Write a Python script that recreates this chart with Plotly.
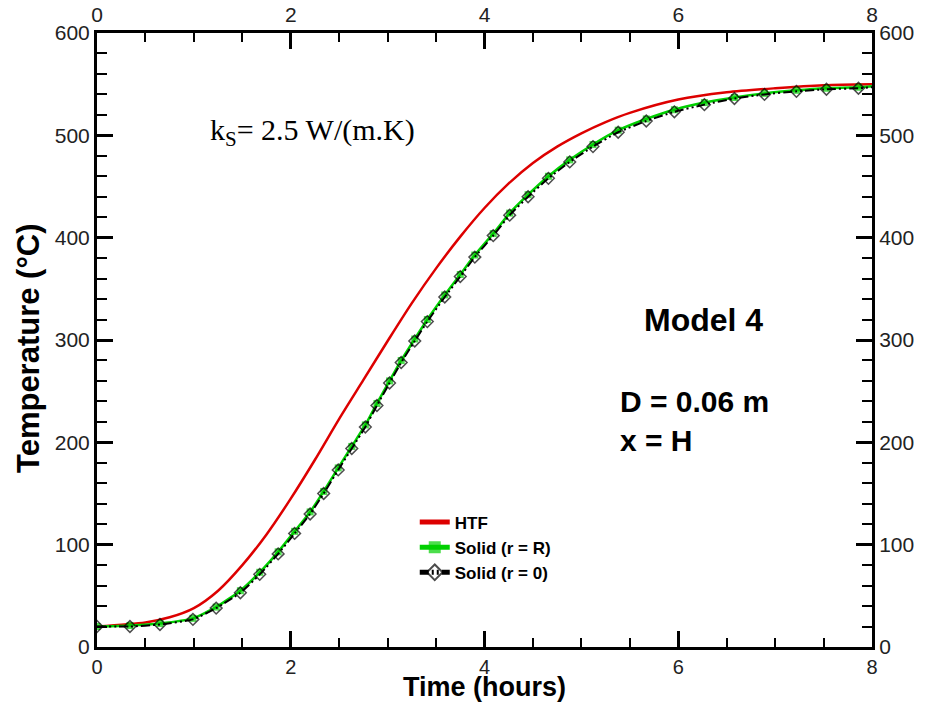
import plotly.graph_objects as go

# ---- data ----
htf_time = [0, 0.5, 0.75, 1.0, 1.25, 1.5, 1.75, 2.0, 2.25, 2.5, 2.75, 3.0, 3.25,
            3.5, 3.75, 4.0, 4.25, 4.5, 4.75, 5.0, 5.25, 5.5, 6.0, 6.5, 7.0, 7.5, 8.0]
htf_temp = [20, 24, 29, 38, 55, 80, 110, 145, 183, 223, 261, 299, 336,
            370, 401, 429, 453, 473, 489, 502, 513, 522, 535, 542, 546, 549, 550]

solid_time = [0, 0.34, 0.65, 0.99, 1.23, 1.48, 1.68, 1.87, 2.04, 2.20, 2.34, 2.49,
              2.63, 2.77, 2.89, 3.02, 3.14, 3.28, 3.41, 3.59, 3.75, 3.90, 4.09,
              4.26, 4.45, 4.66, 4.88, 5.12, 5.38, 5.67, 5.96, 6.27, 6.58, 6.89,
              7.22, 7.53, 7.86, 8.0]
solid_R_temp = [20, 21, 23, 28, 39, 55, 73, 93, 113, 132, 152, 175,
                196, 217, 238, 260, 280, 301, 320, 344, 364, 383, 404,
                424, 442, 460, 476, 491, 505, 516, 525, 532, 537, 541,
                544, 546, 547, 548]
solid_0_temp = [20, 20, 22, 27, 38, 53, 71, 91, 111, 130, 150, 173,
                194, 215, 236, 258, 278, 299, 318, 342, 362, 381, 402,
                422, 440, 458, 474, 489, 503, 514, 523, 530, 536, 540,
                543, 545, 546, 547]

x_ticks = [0, 2, 4, 6, 8]
y_ticks = [0, 100, 200, 300, 400, 500, 600]

SANS = "Liberation Sans, Arial, sans-serif"

# ---- figure ----
fig = go.Figure()

fig.add_trace(go.Scatter(
    x=htf_time, y=htf_temp, name="HTF", mode="lines",
    line=dict(color="#dd0000", width=2.5, shape="spline", smoothing=0.8),
))

n = len(solid_time)
msize_sq = [7] * (n - 1) + [0]
msize_di = [9] * (n - 1) + [0]

fig.add_trace(go.Scatter(
    x=solid_time, y=solid_R_temp, name="Solid (r = R)", mode="lines+markers",
    line=dict(color="#00d000", width=2.5, shape="spline", smoothing=0.5),
    marker=dict(symbol="square", size=msize_sq, color="#00d000",
                line=dict(width=0)),
))
fig.add_trace(go.Scatter(
    x=solid_time, y=solid_0_temp, name="Solid (r = 0)", mode="lines+markers",
    line=dict(color="black", width=2, dash="9px,3px,2px,3px,2px,3px",
              shape="spline", smoothing=0.5),
    marker=dict(symbol="diamond-open", size=msize_di, color="black",
                line=dict(width=1.5, color="black")),
))

# invisible trace so the mirrored top/right axes (with labels) are drawn
fig.add_trace(go.Scatter(
    x=htf_time, y=htf_temp, xaxis="x2", yaxis="y2", mode="lines",
    line=dict(color="rgba(0,0,0,0)", width=0), showlegend=False, hoverinfo="skip",
))

tick_font = dict(family=SANS, size=21, color="#222222")
tick_font_bottom = dict(family=SANS, size=20, color="#222222")

common_x = dict(
    range=[0, 8], tickvals=x_ticks, ticks="inside", ticklen=16, tickwidth=3,
    tickcolor="black", showline=True, linecolor="black", linewidth=3,
    showgrid=False, zeroline=False, tickfont=tick_font, automargin=False,
    minor=dict(dtick=0.5, ticks="inside", ticklen=9, tickwidth=2, tickcolor="black",
               showgrid=False),
)
common_y = dict(
    range=[0, 600], tickvals=y_ticks, ticks="inside", ticklen=16, tickwidth=3,
    tickcolor="black", showline=True, linecolor="black", linewidth=3,
    showgrid=False, zeroline=False, tickfont=tick_font, automargin=False,
    minor=dict(dtick=20, ticks="inside", ticklen=10, tickwidth=2, tickcolor="black",
               showgrid=False),
)

fig.update_layout(
    width=935, height=703,
    margin=dict(l=97, r=63, t=33, b=56, autoexpand=False),
    paper_bgcolor="white", plot_bgcolor="white",
    xaxis=dict(common_x, side="bottom", tickfont=tick_font_bottom),
    yaxis=dict(common_y, side="left"),
    xaxis2=dict(common_x, side="top", overlaying="x", anchor="y"),
    yaxis2=dict(common_y, side="right", overlaying="y", anchor="x"),
    showlegend=True,
    legend=dict(
        x=0.41, y=0.232, xanchor="left", yanchor="top",
        bgcolor="rgba(0,0,0,0)", borderwidth=0,
        font=dict(family=SANS, size=17, color="black", weight="bold"),
        tracegroupgap=0, itemsizing="constant",
    ),
    font=dict(family=SANS, color="black"),
)

# axis titles
fig.add_annotation(
    text="<b>Time (hours)</b>", xref="paper", yref="paper", x=0.5,
    y=(647 - 703) / 614, xanchor="center", yanchor="bottom", showarrow=False,
    borderpad=0,
    font=dict(family=SANS, size=27, color="black"),
)
fig.add_annotation(
    text="<b>Temperature (°C)</b>", xref="paper", yref="paper",
    x=(28 - 97) / 775, y=(647 - 348) / 614,
    xanchor="center", yanchor="middle", textangle=-90, showarrow=False,
    font=dict(family=SANS, size=31, color="black"),
)

# in-plot labels
fig.add_annotation(
    text="k<sub>S</sub>= 2.5 W/(m.K)", xref="paper", yref="paper",
    x=(208 - 97) / 775, y=(647 - 132) / 614, xanchor="left", yanchor="middle",
    showarrow=False,
    font=dict(family="Liberation Serif, Times New Roman, serif", size=30, color="black"),
)
fig.add_annotation(
    text="<b>Model 4</b>", xref="paper", yref="paper",
    x=(642 - 97) / 775, y=(647 - 320) / 614, xanchor="left", yanchor="middle",
    showarrow=False,
    font=dict(family=SANS, size=32, color="black"),
)
fig.add_annotation(
    text="<b>D = 0.06 m<br>x = H</b>", xref="paper", yref="paper",
    x=(618 - 97) / 775, y=(647 - 421) / 614, xanchor="left", yanchor="middle",
    align="left", showarrow=False,
    font=dict(family=SANS, size=30, color="black"),
)

# remove the default page margin so the figure sits at the window's corner
fig.write_html("out.html", config={"displayModeBar": False},
               post_script="document.body.style.margin='0';")
